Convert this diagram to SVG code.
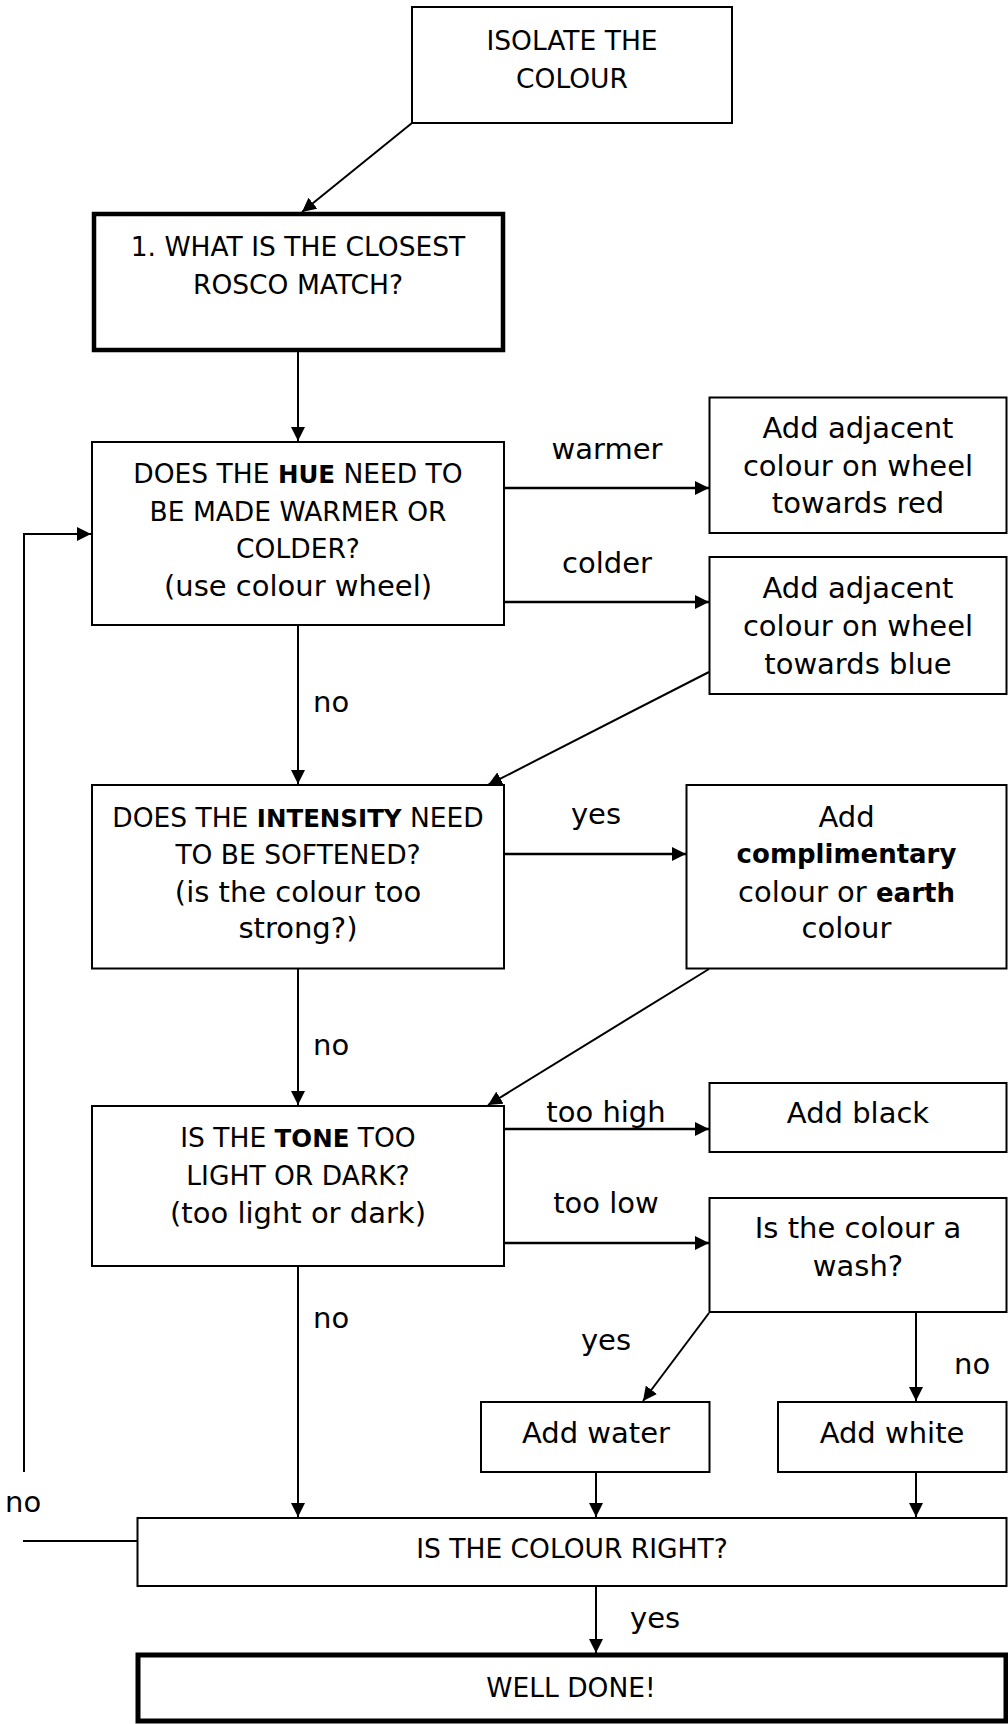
<svg xmlns="http://www.w3.org/2000/svg" width="1008" height="1724" viewBox="0 0 1008 1724">
<defs>
<marker id="ah" markerUnits="userSpaceOnUse" markerWidth="14" markerHeight="14" refX="14" refY="7" orient="auto"><path d="M0,0 L14,7 L0,14 z" fill="#000"/></marker>
</defs>
<style>
.box{fill:#fff;stroke:#000;stroke-width:2}
.thick{fill:#fff;stroke:#000;stroke-width:4.5}
.conn line,.conn polyline{stroke:#000;stroke-width:2;fill:none}
.conn line.h{stroke-width:2.7}
.arr{marker-end:url(#ah)}
text{font-family:"DejaVu Sans","Liberation Sans",sans-serif;fill:#000}
.c{font-size:26.5px;text-anchor:middle}
.l{font-size:29px;text-anchor:middle}
.lab{font-size:29px}
.m{text-anchor:middle}
.b{font-weight:bold;font-size:24.5px}
.bl{font-weight:bold;font-size:26px}
</style>
<rect width="1008" height="1724" fill="#fff"/>

<g id="connectors" class="conn">
<line class="arr" x1="412" y1="123" x2="302" y2="212"/>
<line class="arr" x1="298" y1="352" x2="298" y2="441"/>
<line class="arr h" x1="505" y1="488" x2="709" y2="488"/>
<line class="arr h" x1="505" y1="602" x2="709" y2="602"/>
<polyline class="arr" points="24,1472 24,534 91,534"/>
<line class="arr" x1="298" y1="626" x2="298" y2="784"/>
<line class="arr" x1="709" y1="672" x2="488" y2="785"/>
<line class="arr h" x1="505" y1="854" x2="686" y2="854"/>
<line class="arr" x1="298" y1="969" x2="298" y2="1105"/>
<line class="arr" x1="709" y1="969" x2="488" y2="1105"/>
<line class="arr h" x1="505" y1="1129" x2="709" y2="1129"/>
<line class="arr h" x1="505" y1="1243" x2="709" y2="1243"/>
<line class="arr" x1="298" y1="1267" x2="298" y2="1517"/>
<line class="arr" x1="709" y1="1313" x2="643" y2="1401"/>
<line class="arr" x1="916" y1="1313" x2="916" y2="1401"/>
<line class="arr" x1="596" y1="1473" x2="596" y2="1517"/>
<line class="arr" x1="916" y1="1473" x2="916" y2="1517"/>
<line class="arr" x1="596" y1="1587" x2="596" y2="1653"/>
<line x1="23" y1="1541" x2="137" y2="1541"/>
<text class="lab m" x="607" y="459">warmer</text>
<text class="lab m" x="607" y="573">colder</text>
<text class="lab" x="313" y="712">no</text>
<text class="lab m" x="596" y="824">yes</text>
<text class="lab" x="313" y="1055">no</text>
<text class="lab m" x="606" y="1122">too high</text>
<text class="lab m" x="606" y="1213">too low</text>
<text class="lab" x="313" y="1328">no</text>
<text class="lab m" x="606" y="1350">yes</text>
<text class="lab" x="954" y="1374">no</text>
<text class="lab" x="5" y="1512">no</text>
<text class="lab" x="630" y="1628">yes</text>
</g>

<g id="isolate">
<rect class="box" x="412" y="7" width="320" height="116"/>
<text class="c" x="572" y="50">ISOLATE THE</text>
<text class="c" x="572" y="87.5">COLOUR</text>
</g>

<g id="closest">
<rect class="thick" x="94" y="214" width="409" height="136"/>
<text class="c" x="298" y="256">1. WHAT IS THE CLOSEST</text>
<text class="c" x="298" y="293.5">ROSCO MATCH?</text>
</g>

<g id="hue">
<rect class="box" x="92" y="442" width="412" height="183"/>
<text class="c" x="298" y="483.3">DOES THE <tspan class="b">HUE</tspan> NEED TO</text>
<text class="c" x="298" y="520.7">BE MADE WARMER OR</text>
<text class="c" x="298" y="558.3">COLDER?</text>
<text class="l" x="298" y="595.7">(use colour wheel)</text>
</g>

<g id="towards-red">
<rect class="box" x="709.5" y="397.5" width="297" height="135.5"/>
<text class="l" x="858" y="437.5">Add adjacent</text>
<text class="l" x="858" y="475.5">colour on wheel</text>
<text class="l" x="858" y="513">towards red</text>
</g>

<g id="towards-blue">
<rect class="box" x="709.5" y="557" width="297" height="137"/>
<text class="l" x="858" y="598">Add adjacent</text>
<text class="l" x="858" y="636">colour on wheel</text>
<text class="l" x="858" y="673.5">towards blue</text>
</g>

<g id="intensity">
<rect class="box" x="92" y="785" width="412" height="183.5"/>
<text class="c" x="298" y="826.7">DOES THE <tspan class="b">INTENSITY</tspan> NEED</text>
<text class="c" x="298" y="864.3">TO BE SOFTENED?</text>
<text class="l" x="298" y="901.7">(is the colour too</text>
<text class="l" x="298" y="938.3">strong?)</text>
</g>

<g id="complimentary">
<rect class="box" x="686.5" y="785" width="320" height="183.5"/>
<text class="l" x="846.5" y="826.7">Add</text>
<text class="l" x="846.5" y="863.3"><tspan class="bl">complimentary</tspan></text>
<text class="l" x="846.5" y="901.7">colour or <tspan class="bl">earth</tspan></text>
<text class="l" x="846.5" y="938.3">colour</text>
</g>

<g id="tone">
<rect class="box" x="92" y="1106" width="412" height="160"/>
<text class="c" x="298" y="1146.7">IS THE <tspan class="b">TONE</tspan> TOO</text>
<text class="c" x="298" y="1185">LIGHT OR DARK?</text>
<text class="l" x="298" y="1223.3">(too light or dark)</text>
</g>

<g id="add-black">
<rect class="box" x="709.5" y="1083" width="297" height="69"/>
<text class="l" x="858" y="1123.3">Add black</text>
</g>

<g id="wash">
<rect class="box" x="709.5" y="1198" width="297" height="114"/>
<text class="l" x="858" y="1238.3">Is the colour a</text>
<text class="l" x="858" y="1276">wash?</text>
</g>

<g id="add-water">
<rect class="box" x="481" y="1402" width="228.5" height="70"/>
<text class="l" x="596" y="1443.3">Add water</text>
</g>

<g id="add-white">
<rect class="box" x="778" y="1402" width="228.5" height="70"/>
<text class="l" x="892" y="1443.3">Add white</text>
</g>

<g id="colour-right">
<rect class="box" x="137.5" y="1518" width="869" height="68"/>
<text class="c" x="572" y="1557.7">IS THE COLOUR RIGHT?</text>
</g>

<g id="well-done">
<rect class="box" style="stroke-width:5" x="138" y="1655" width="868" height="66"/>
<text class="c" x="571" y="1696.7">WELL DONE!</text>
</g>
</svg>
